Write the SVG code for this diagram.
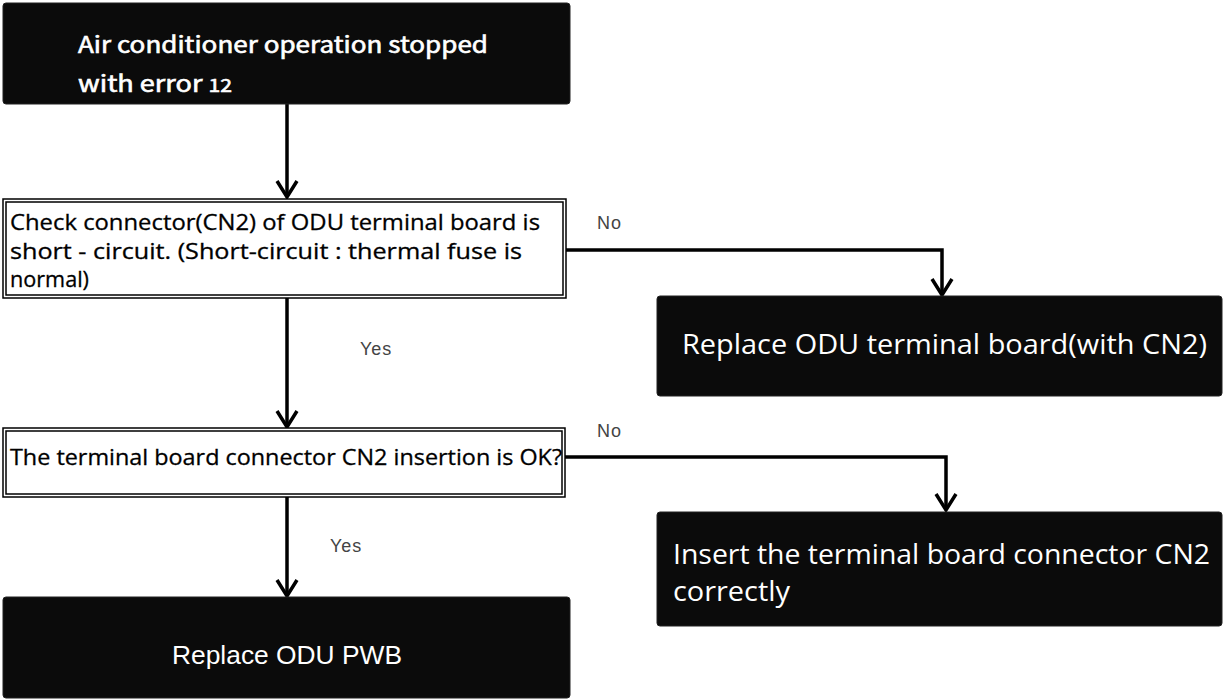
<svg xmlns="http://www.w3.org/2000/svg" width="1227" height="700" viewBox="0 0 1227 700">
<style>
.blk{fill:#0b0b0b;stroke:#222;stroke-width:1}
.dbl{fill:#fff;stroke:#000;stroke-width:1.5}
.wt{fill:#fff;font-family:"Open Sans","Noto Sans",sans-serif;font-size:28px}
.wj{fill:#fff;font-family:"Noto Sans CJK JP","Liberation Sans",sans-serif;font-size:23px;font-weight:normal;stroke:#fff;stroke-width:0.6}
.bt{fill:#000;font-family:"Open Sans","Noto Sans",sans-serif;font-size:22px;stroke:#000;stroke-width:0.3}
.lbl{fill:#444;font-family:"Liberation Sans","Noto Sans",sans-serif;font-size:18px;letter-spacing:1px}
.ln{fill:none;stroke:#000;stroke-width:3.5}
</style>
<defs>
<marker id="arr" viewBox="0 0 20 24" refX="18" refY="12" markerWidth="20" markerHeight="24" markerUnits="userSpaceOnUse" orient="auto">
<path d="M2,2 L18,12 L2,22" fill="none" stroke="#000" stroke-width="3.5"/>
</marker>
</defs>
<g id="connectors">
<line class="ln" x1="287" y1="104" x2="287" y2="197" marker-end="url(#arr)"/>
<polyline class="ln" points="566,250 942,250 942,295" marker-end="url(#arr)"/>
<line class="ln" x1="287" y1="298" x2="287" y2="427" marker-end="url(#arr)"/>
<polyline class="ln" points="565,457 946,457 946,510" marker-end="url(#arr)"/>
<line class="ln" x1="287" y1="497" x2="287" y2="596" marker-end="url(#arr)"/>
<text class="lbl" x="597" y="229">No</text>
<text class="lbl" x="360" y="355">Yes</text>
<text class="lbl" x="597" y="437">No</text>
<text class="lbl" x="330" y="552">Yes</text>
</g>
<g id="start">
<rect class="blk" x="3" y="3" width="567" height="101" rx="3"/>
<text class="wj" x="78" y="53" textLength="410" lengthAdjust="spacingAndGlyphs">Air conditioner operation stopped</text>
<text class="wj" x="78" y="92" textLength="154" lengthAdjust="spacingAndGlyphs">with error <tspan font-size="18">12</tspan></text>
</g>
<g id="check-short">
<rect class="dbl" x="3" y="199" width="563" height="99"/>
<rect class="dbl" x="6" y="202" width="557" height="93"/>
<text class="bt" x="10" y="230" textLength="530" lengthAdjust="spacingAndGlyphs">Check connector(CN2) of ODU terminal board is</text>
<text class="bt" x="10" y="259" textLength="512" lengthAdjust="spacingAndGlyphs">short - circuit. (Short-circuit : thermal fuse is</text>
<text class="bt" x="10" y="287" textLength="79" lengthAdjust="spacingAndGlyphs">normal)</text>
</g>
<g id="replace-board">
<rect class="blk" x="657" y="296" width="565" height="100" rx="3"/>
<text class="wt" x="682" y="354" textLength="525" lengthAdjust="spacingAndGlyphs">Replace ODU terminal board(with CN2)</text>
</g>
<g id="check-insertion">
<rect class="dbl" x="3" y="428" width="562" height="69"/>
<rect class="dbl" x="6" y="431" width="556" height="63"/>
<text class="bt" x="10" y="465" textLength="552" lengthAdjust="spacingAndGlyphs">The terminal board connector CN2 insertion is OK?</text>
</g>
<g id="insert-connector">
<rect class="blk" x="657" y="512" width="565" height="114" rx="3"/>
<text class="wt" x="673" y="564" textLength="537" lengthAdjust="spacingAndGlyphs">Insert the terminal board connector CN2</text>
<text class="wt" x="673" y="601" textLength="117" lengthAdjust="spacingAndGlyphs">correctly</text>
</g>
<g id="replace-pwb">
<rect class="blk" x="3" y="597" width="567" height="101" rx="3"/>
<text x="287" y="664" text-anchor="middle" fill="#fff" font-family="Liberation Sans, sans-serif" font-size="25" textLength="230" lengthAdjust="spacingAndGlyphs">Replace ODU PWB</text>
</g>
</svg>
